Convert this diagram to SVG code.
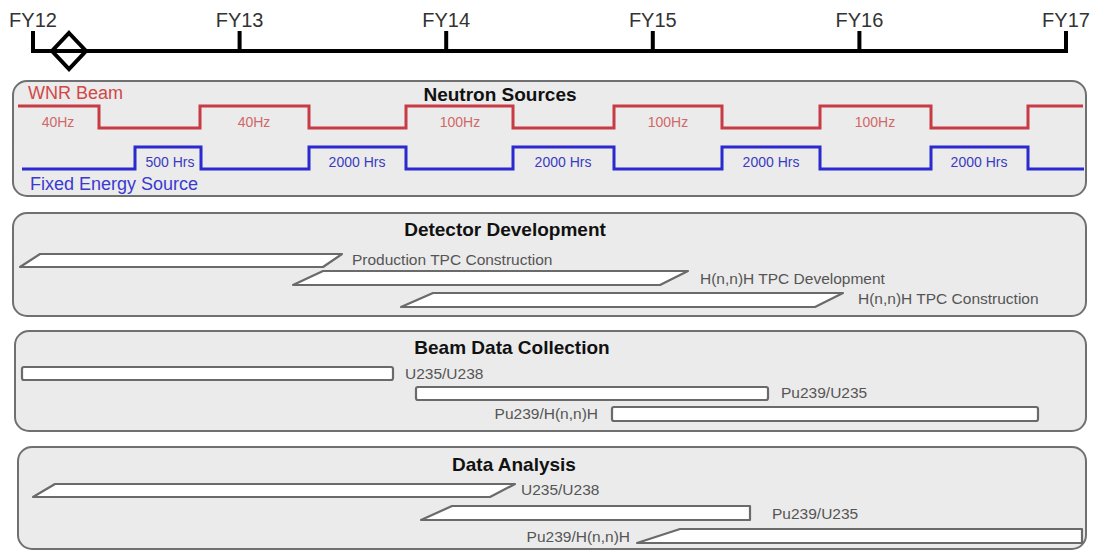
<svg xmlns="http://www.w3.org/2000/svg" width="1094" height="552" viewBox="0 0 1094 552">
<style>
.fy{font-family:"Liberation Sans",Arial,sans-serif;font-size:20px;fill:#333;text-anchor:middle}
.tl{fill:none;stroke:#000;stroke-width:4;stroke-linecap:square}
.panel{fill:#ebebeb;stroke:#707070;stroke-width:2}
.title{font-family:"Liberation Sans",Arial,sans-serif;font-size:19px;font-weight:bold;fill:#111;text-anchor:middle}
.bar{fill:#fff;stroke:#6a6a6a;stroke-width:2.2;stroke-linejoin:round}
.lbl{font-family:"Liberation Sans",Arial,sans-serif;font-size:15.5px;fill:#555}
.rl{font-family:"Liberation Sans",Arial,sans-serif;font-size:14px;fill:#d06868;text-anchor:middle}
.bl{font-family:"Liberation Sans",Arial,sans-serif;font-size:14px;fill:#3a3ac0;text-anchor:middle}
.big{font-family:"Liberation Sans",Arial,sans-serif;font-size:18px}
</style>
<rect width="1094" height="552" fill="#fff"/>
<g id="timeline">
  <path class="tl" d="M33,33 V51 H1066 V33 M239.6,33 V51 M446.2,33 V51 M652.8,33 V51 M859.4,33 V51"/>
  <path d="M69,33 L86,51 L69,69 L52,51 Z" fill="none" stroke="#000" stroke-width="4"/>
  <text class="fy" x="33" y="27">FY12</text>
  <text class="fy" x="239.6" y="27">FY13</text>
  <text class="fy" x="446.2" y="27">FY14</text>
  <text class="fy" x="652.8" y="27">FY15</text>
  <text class="fy" x="859.4" y="27">FY16</text>
  <text class="fy" x="1066" y="27">FY17</text>
</g>
<g id="neutron-sources">
  <rect class="panel" x="13" y="81" width="1073" height="115" rx="14"/>
  <text class="title" x="500" y="101">Neutron Sources</text>
  <text class="big" x="28" y="99" fill="#d04848">WNR Beam</text>
  <text class="big" x="30" y="190" fill="#3a3ad0">Fixed Energy Source</text>
  <path d="M18,106 H99 V128 H200 V106 H309 V128 H406 V106 H513 V128 H614 V106 H722 V128 H820 V106 H931 V128 H1028 V106 H1083" fill="none" stroke="#c83a44" stroke-width="3"/>
  <path d="M22,169 H135 V147 H201 V169 H309 V147 H406 V169 H513 V147 H614 V169 H722 V147 H820 V169 H931 V147 H1028 V169 H1084" fill="none" stroke="#2a2ad0" stroke-width="3"/>
  <text class="rl" x="58" y="127">40Hz</text>
  <text class="rl" x="254" y="127">40Hz</text>
  <text class="rl" x="460" y="127">100Hz</text>
  <text class="rl" x="668" y="127">100Hz</text>
  <text class="rl" x="875" y="127">100Hz</text>
  <text class="bl" x="170" y="167">500 Hrs</text>
  <text class="bl" x="357" y="167">2000 Hrs</text>
  <text class="bl" x="563" y="167">2000 Hrs</text>
  <text class="bl" x="771" y="167">2000 Hrs</text>
  <text class="bl" x="979" y="167">2000 Hrs</text>
</g>
<g id="detector-development">
  <rect class="panel" x="13" y="213" width="1073" height="103" rx="14"/>
  <text class="title" x="505" y="236">Detector Development</text>
  <path class="bar" d="M20,267 L40,254 H342 L323,267 Z"/>
  <path class="bar" d="M293,285 L323,271 H688 L660,285 Z"/>
  <path class="bar" d="M401,307 L433,293 H843 L815,307 Z"/>
  <text class="lbl" x="352" y="265">Production TPC Construction</text>
  <text class="lbl" x="700" y="284">H(n,n)H  TPC Development</text>
  <text class="lbl" x="858" y="304">H(n,n)H TPC Construction</text>
</g>
<g id="beam-data-collection">
  <rect class="panel" x="15" y="331" width="1071" height="100" rx="14"/>
  <text class="title" x="512" y="354">Beam Data Collection</text>
  <rect class="bar" x="22" y="367" width="371" height="13" rx="2"/>
  <rect class="bar" x="416" y="387" width="352" height="13" rx="2"/>
  <rect class="bar" x="612" y="407" width="426" height="14" rx="2"/>
  <text class="lbl" x="405" y="379">U235/U238</text>
  <text class="lbl" x="781" y="398">Pu239/U235</text>
  <text class="lbl" x="598" y="419" text-anchor="end">Pu239/H(n,n)H</text>
</g>
<g id="data-analysis">
  <rect class="panel" x="18" y="447" width="1068" height="102" rx="14"/>
  <text class="title" x="514" y="471">Data Analysis</text>
  <path class="bar" d="M33,497 L55,484 H515 L490,497 Z"/>
  <path class="bar" d="M421,520 L452,506 H750 V520 Z"/>
  <path class="bar" d="M637,543 L680,529 H1082 V543 Z"/>
  <text class="lbl" x="521" y="495">U235/U238</text>
  <text class="lbl" x="772" y="519">Pu239/U235</text>
  <text class="lbl" x="630" y="542" text-anchor="end">Pu239/H(n,n)H</text>
</g>
<g id="connectors"/>
</svg>
